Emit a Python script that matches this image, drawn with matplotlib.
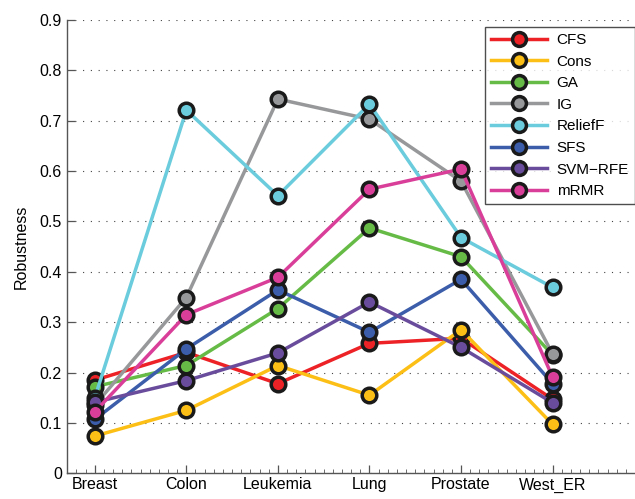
import matplotlib
matplotlib.use("Agg")
import matplotlib.pyplot as plt
from matplotlib.ticker import MultipleLocator, FuncFormatter

plt.rcParams["font.family"] = ["Liberation Sans", "DejaVu Sans"]

datasets = ["Breast", "Colon", "Leukemia", "Lung", "Prostate", "West_ER"]

cfs = [0.185, 0.240, 0.178, 0.258, 0.268, 0.147]
cons = [0.074, 0.125, 0.214, 0.155, 0.285, 0.097]
ga = [0.172, 0.214, 0.327, 0.487, 0.430, 0.235]
ig = [0.135, 0.349, 0.743, 0.703, 0.580, 0.237]
relieff = [0.150, 0.721, 0.551, 0.733, 0.468, 0.369]
sfs = [0.107, 0.247, 0.364, 0.280, 0.385, 0.178]
svm_rfe = [0.141, 0.184, 0.239, 0.340, 0.250, 0.140]
mrmr = [0.122, 0.315, 0.389, 0.564, 0.604, 0.191]

methods = ["CFS", "Cons", "GA", "IG", "ReliefF", "SFS", "SVM\u2212RFE", "mRMR"]
series = [cfs, cons, ga, ig, relieff, sfs, svm_rfe, mrmr]
colors = ["#ec2227", "#fcbf16", "#66bb46", "#97989a", "#6accdc",
          "#3b5daa", "#6a4c9c", "#d93f99"]

x = list(range(1, len(datasets) + 1))

fig = plt.figure(figsize=(6.35, 4.99), dpi=100)
ax = fig.add_axes([0.106, 0.0515, 0.894, 0.9085])

for name, vals, col in zip(methods, series, colors):
    ax.plot(x, vals, "-o", color=col, lw=2.5, markersize=10.5,
            markerfacecolor=col, markeredgecolor="#1a1a1a",
            markeredgewidth=2.5, label=name)

ax.set_xlim(0.7, 6.9)
ax.set_ylim(0, 0.9)
ax.set_xticks(x)
ax.set_xticklabels(datasets)
ax.xaxis.set_minor_locator(MultipleLocator(0.1))
ax.yaxis.set_major_locator(MultipleLocator(0.1))
ax.yaxis.set_major_formatter(
    FuncFormatter(lambda v, pos: "0" if abs(v) < 1e-9 else f"{v:.1f}"))

ax.tick_params(axis="both", which="major", direction="in", length=6,
               width=0.9, color="#555555", labelsize=11.5, pad=4)
ax.tick_params(axis="x", which="minor", direction="in", length=3,
               width=0.6, color="#555555")
ax.tick_params(axis="x", which="major", pad=3)

for side in ["top", "right"]:
    ax.spines[side].set_visible(False)
for side in ["left", "bottom"]:
    ax.spines[side].set_color("#555555")
    ax.spines[side].set_linewidth(1.0)

ax.yaxis.grid(True, linestyle=(0, (1, 6)), color="#444444", lw=0.8)
ax.set_axisbelow(True)

ax.set_ylabel("Robustness", fontsize=11.5, labelpad=8)

leg = ax.legend(loc="upper right", bbox_to_anchor=(1.0, 0.985),
                borderaxespad=0, fontsize=11, handlelength=3.7,
                handletextpad=0.6, labelspacing=0.5, borderpad=0.4,
                frameon=True, fancybox=False, markerscale=0.95)
leg.get_frame().set_edgecolor("#222222")
leg.get_frame().set_linewidth(1.0)

fig.savefig("out.png", dpi=100)
